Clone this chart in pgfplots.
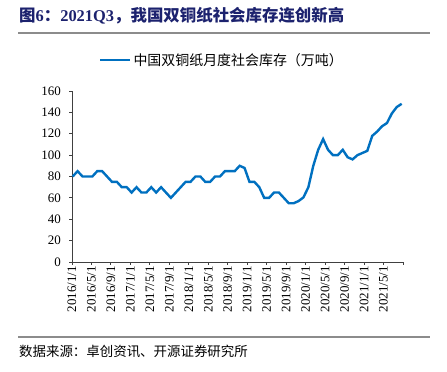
\documentclass[border=0pt]{standalone}
\usepackage{pgfplots}
\pgfplotsset{compat=1.18}
\usepackage{fontspec}
\setmainfont{Liberation Serif}
\newfontfamily\cjk{Noto Sans CJK SC}
\definecolor{lineblue}{RGB}{0,112,192}
\definecolor{titleblue}{RGB}{28,34,110}
\definecolor{rulegray}{RGB}{140,140,140}
\begin{document}
\begin{tikzpicture}
\useasboundingbox (0,0) rectangle (447bp,372bp);
\node[anchor=west, inner sep=0pt, text=titleblue, font=\fontsize{16.5}{18}\selectfont\bfseries] at (19bp,356bp)
  {{\cjk\bfseries 图}6{\cjk\bfseries ：}2021Q3{\cjk\bfseries ，我国双铜纸社会库存连创新高}};
\draw[rulegray, line width=1.5bp] (18bp,339bp) -- (430bp,339bp);
\draw[rulegray, line width=1.2bp] (18bp,35bp) -- (430bp,35bp);
\node[anchor=west, inner sep=0pt, font=\cjk\fontsize{13.5}{15}\selectfont] at (19bp,21bp)
  {数据来源：卓创资讯、开源证券研究所};
\begin{axis}[
  at={(72bp,110bp)}, anchor=south west,
  width=331bp, height=171bp, scale only axis=true,
  xmin=-0.14, xmax=67.27, ymin=0, ymax=160,
  axis x line*=bottom, axis y line*=left,
  axis line style={black!75, line width=0.9bp, -},
  ytick={0,20,...,160},
  xtick={-0.14,3.825,7.79,11.755,15.72,19.685,23.65,27.615,31.58,35.545,39.51,43.475,47.44,51.405,55.37,59.335,63.30,67.27},
  xticklabels={2016/1/1,2016/5/1,2016/9/1,2017/1/1,2017/5/1,2017/9/1,2018/1/1,2018/5/1,2018/9/1,2019/1/1,2019/5/1,2019/9/1,2020/1/1,2020/5/1,2020/9/1,2021/1/1,2021/5/1,{}},
  tick align=outside, major tick length=3bp,
  tick style={black!75, line width=0.9bp},
  /pgf/number format/assume math mode=true,
  ticklabel style={font=\fontsize{13}{15}\selectfont},
  xticklabel style={rotate=90, anchor=east, inner sep=1bp, yshift=0bp},
  yticklabel style={inner sep=1bp, xshift=-7bp},
  legend style={draw=none, fill=none, at={(0.453,1.18)}, anchor=center,
    font=\cjk\fontsize{14}{16}\selectfont, inner sep=0pt},
  legend image code/.code={\draw[#1] (0bp,0bp) -- (30bp,0bp);},
  clip=false,
]
\addplot[lineblue, line width=2.4bp] coordinates {
(0,80)(1,85)(2,80)(3,80)(4,80)(5,85)(6,85)(7,80)(8,75)(9,75)
(10,70)(11,70)(12,65)(13,70)(14,65)(15,65)(16,70)(17,65)(18,70)(19,65)
(20,60)(21,65)(22,70)(23,75)(24,75)(25,80)(26,80)(27,75)(28,75)(29,80)
(30,80)(31,85)(32,85)(33,85)(34,90)(35,88)(36,75)(37,75)(38,70)(39,60)
(40,60)(41,65)(42,65)(43,60)(44,55)(45,55)(46,57)(47,60.5)(48,70)(49,90)
(50,105)(51,115)(52,105)(53,100)(54,100)(55,105)(56,98)(57,96)(58,100)(59,102)
(60,104)(61,118)(62,122)(63,127)(64,130)(65,139)(66,145)(67,148)
};
\addlegendentry{中国双铜纸月度社会库存（万吨）}
\end{axis}
\end{tikzpicture}
\end{document}
